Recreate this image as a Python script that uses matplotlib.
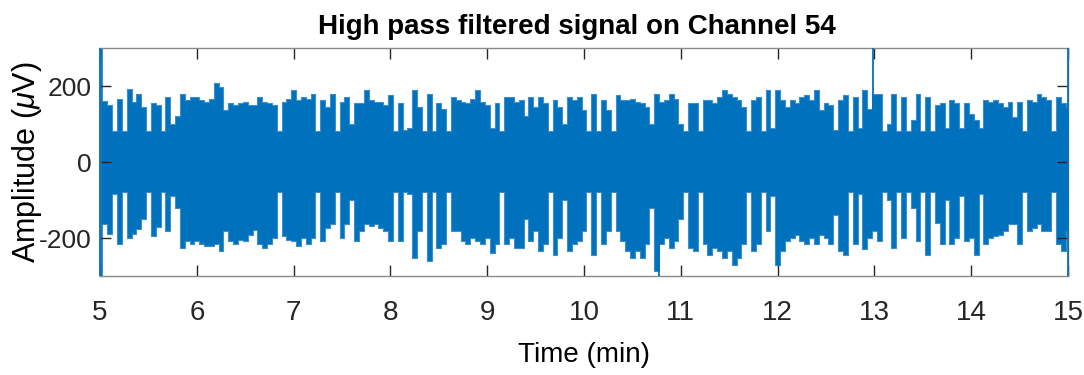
import matplotlib
matplotlib.use("Agg")
import matplotlib.pyplot as plt
import numpy as np

t_start = 5.0
t_step = 0.05
upper = [
    300, 160, 149, 81, 167, 81, 193, 158, 180, 145, 81, 154, 149, 81, 171,
    100, 120, 180, 162, 171, 171, 162, 158, 167, 207, 198, 136, 154, 149,
    154, 158, 149, 150, 171, 158, 154, 149, 81, 158, 167, 189, 162, 171, 167,
    180, 81, 162, 145, 180, 81, 158, 171, 100, 154, 154, 189, 162, 158,
    158, 149, 176, 81, 154, 85, 90, 189, 145, 81, 180, 81, 154, 140, 81,
    171, 162, 158, 154, 167, 189, 158, 149, 90, 154, 81, 171, 171, 158,
    162, 120, 171, 145, 171, 154, 81, 162, 145, 100, 171, 162, 171, 136, 81,
    180, 81, 162, 136, 81, 176, 162, 162, 167, 158, 154, 145, 100, 180,
    158, 162, 180, 167, 100, 81, 154, 154, 81, 162, 162, 154, 171, 189, 180,
    171, 162, 145, 81, 162, 171, 81, 189, 90, 189, 162, 145, 162, 154,
    171, 176, 162, 189, 136, 154, 149, 85, 162, 176, 81, 171, 90, 190, 140,
    180, 180, 81, 100, 180, 81, 171, 81, 110, 180, 81, 171, 81, 150,
    154, 90, 162, 154, 90, 154, 127, 110, 90, 162, 158, 162, 154, 145, 158,
    118, 158, 81, 162, 158, 180, 171, 162, 81, 171, 154, 145,
]
lower = [
    -300, -164, -190, -85, -217, -80, -200, -190, -177, -150, -80, -195, -170,
    -80, -182, -90, -120, -226, -208, -217, -208, -217, -222, -222, -217, -235,
    -182, -208, -217,
    -204, -208, -191, -180, -217, -226, -217, -200, -80, -195, -204, -208,
    -222, -200, -217, -200, -80, -208, -173, -164, -80, -200, -164, -100,
    -208, -182, -164, -169, -164,
    -173, -182, -208, -80, -208, -80, -85, -252, -182, -80, -261, -80, -226,
    -217, -80, -182, -182, -208, -217, -200, -208, -217, -200, -240, -217,
    -80, -217, -200, -226,
    -226, -150, -208, -182, -235, -217, -80, -244, -200, -100, -235, -217,
    -208, -182, -80, -244, -80, -217, -182, -80, -182, -208, -235, -252,
    -235, -252, -217, -120, -288,
    -217, -200, -226, -208, -150, -80, -226, -235, -80, -217, -244, -226,
    -235, -252, -235, -270, -252, -217, -80, -235, -217, -80, -182, -90,
    -270, -235, -208, -200, -191,
    -208, -217, -200, -217, -191, -200, -217, -140, -235, -244, -80, -217,
    -85, -230, -200, -182, -208, -80, -100, -226, -80, -200, -80, -120,
    -208, -80, -244, -80, -160,
    -217, -100, -217, -200, -90, -208, -200, -244, -85, -217, -200, -195,
    -191, -182, -164, -164, -217, -80, -182, -173, -164, -182, -182, -80,
    -217, -235, -182,
]

# single thin transients
spike_t = [5.0, 12.985, 10.77, 15.0]
spike_lo = [-300, -180, -300, -300]
spike_hi = [300, 300, -80, 300]

x_ticks = [5, 6, 7, 8, 9, 10, 11, 12, 13, 14, 15]
y_ticks = [-200, 0, 200]

BLUE = "#0072BD"
AX_COLOR = "#262626"
FONT = "Liberation Sans"


def main():
    plt.rcParams["axes.unicode_minus"] = False
    plt.rcParams["font.family"] = FONT
    plt.rcParams["mathtext.fontset"] = "custom"
    plt.rcParams["mathtext.it"] = "Liberation Sans:italic"
    plt.rcParams["mathtext.rm"] = "Liberation Sans"

    fig = plt.figure(figsize=(10.84, 3.75), dpi=100)
    ax = fig.add_axes([0.0923, 0.264, 0.893, 0.608])

    t = t_start + t_step * np.arange(len(upper))
    ax.fill_between(t, lower, upper, step="mid", color=BLUE, lw=0.8,
                    edgecolor="#3d8fcc")
    ax.vlines(spike_t, spike_lo, spike_hi, color=BLUE, lw=1.3,
              clip_on=False, zorder=3)

    ax.set_xlim(5, 15)
    ax.set_ylim(-300, 300)
    ax.set_xticks(x_ticks)
    ax.set_yticks(y_ticks)
    ax.tick_params(direction="in", length=8, width=1, top=True, right=True,
                   colors=AX_COLOR, labelsize=20)
    ax.tick_params(axis="x", pad=17)
    ax.tick_params(axis="y", labelsize=19, pad=6)
    for sp in ax.spines.values():
        sp.set_color("#8a8a8a")
        sp.set_linewidth(1)

    ax.set_xlabel("Time (min)", fontsize=20, labelpad=12)
    ax.set_ylabel(r"Amplitude ($\mu$V)", fontsize=22)
    ax.yaxis.set_label_coords(-0.058, 0.5)
    ax.set_title("High pass filtered signal on Channel 54", fontsize=20,
                 fontweight="bold", pad=10, x=0.493)

    fig.savefig("out.png", dpi=100)


if __name__ == "__main__":
    main()
